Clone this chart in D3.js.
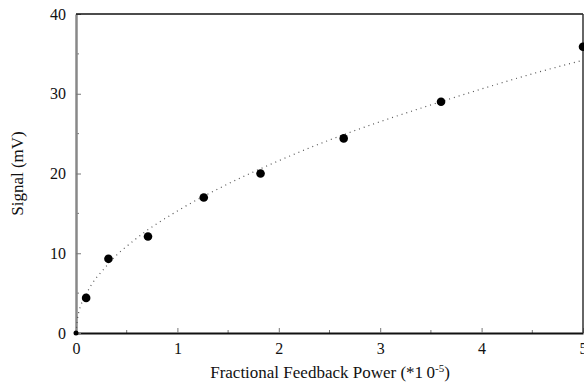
<!DOCTYPE html>
<html>
<head>
<meta charset="utf-8">
<script src="https://cdn.jsdelivr.net/npm/d3@7"></script>
<style>
  html, body { margin: 0; padding: 0; background: #fff; overflow: hidden; }
  text { font-family: "Liberation Serif", "DejaVu Serif", serif; fill: #111; }
</style>
</head>
<body>
<svg id="chart" width="584" height="383"></svg>
<script>
// measured points
const powerX = [0, 0.1, 0.32, 0.71, 1.26, 1.82, 2.64, 3.6, 5.0];
const signalY = [0, 4.4, 9.3, 12.1, 17.0, 20.0, 24.4, 29.0, 35.9];

// dotted fit line
const fitX = [0, 0.02, 0.1, 0.3, 0.6, 1, 1.5, 2, 2.5, 3, 3.5, 4, 4.5, 5];
const fitY = [0, 2.2, 4.8, 8.4, 11.9, 15.3, 18.7, 21.6, 24.2, 26.5, 28.6, 30.6, 32.5, 34.2];

const xTicks = [0, 1, 2, 3, 4, 5];
const yTicks = [0, 10, 20, 30, 40];

const margin = { left: 76, top: 14, right: 1, bottom: 50 };
const W = 584, H = 383;

const svg = d3.select('#chart');
const x = d3.scaleLinear().domain([0, 5]).range([margin.left, W - margin.right]);
const y = d3.scaleLinear().domain([0, 40]).range([H - margin.bottom, margin.top]);

// minor ticks (inward)
const g = svg.append('g');
g.selectAll('line.xminor')
  .data(d3.range(0.5, 5, 1))
  .enter().append('line')
  .attr('x1', d => x(d)).attr('x2', d => x(d))
  .attr('y1', y(0)).attr('y2', y(0) - 3)
  .attr('stroke', '#777').attr('stroke-width', 1);
g.selectAll('line.yminor')
  .data(d3.range(5, 40, 10))
  .enter().append('line')
  .attr('x1', x(0)).attr('x2', x(0) + 3)
  .attr('y1', d => y(d)).attr('y2', d => y(d))
  .attr('stroke', '#777').attr('stroke-width', 1);

// axes with inward major ticks
const xAxis = svg.append('g')
  .attr('transform', `translate(0,${y(0)})`)
  .call(d3.axisBottom(x).tickValues(xTicks).tickSizeInner(-5).tickSizeOuter(0).tickPadding(10).tickFormat(d3.format('d')));
xAxis.select('.domain').attr('stroke', '#111').attr('stroke-width', 2);
xAxis.selectAll('.tick line').attr('stroke', '#777');
xAxis.selectAll('text').style('font-size', '16px').attr('fill', '#111');

const yAxis = svg.append('g')
  .attr('transform', `translate(${x(0)},0)`)
  .call(d3.axisLeft(y).tickValues(yTicks).tickSizeInner(-5).tickSizeOuter(0).tickPadding(10).tickFormat(d3.format('d')));
yAxis.select('.domain').attr('stroke', '#888').attr('stroke-width', 2.5);
yAxis.selectAll('.tick line').attr('stroke', '#777');
yAxis.selectAll('text').style('font-size', '16px').attr('fill', '#111');

// top and right frame
svg.append('line')
  .attr('x1', x(0)).attr('x2', x(5)).attr('y1', y(40)).attr('y2', y(40))
  .attr('stroke', '#111').attr('stroke-width', 1.5);
svg.append('line')
  .attr('x1', x(5)).attr('x2', x(5)).attr('y1', y(40)).attr('y2', y(0))
  .attr('stroke', '#333').attr('stroke-width', 1.5);

// fit line
const fitData = fitX.map((v, i) => [v, fitY[i]]);
svg.append('path')
  .datum(fitData)
  .attr('d', d3.line().x(d => x(d[0])).y(d => y(d[1])).curve(d3.curveMonotoneX))
  .attr('fill', 'none')
  .attr('stroke', '#555')
  .attr('stroke-width', 1.2)
  .attr('stroke-dasharray', '1,4');

// points
svg.selectAll('circle.pt')
  .data(powerX.map((v, i) => [v, signalY[i]]))
  .enter().append('circle')
  .attr('cx', d => x(d[0]))
  .attr('cy', d => y(d[1]))
  .attr('r', d => d[0] === 0 ? 2.5 : 4.3)
  .attr('fill', '#000');

// axis titles
svg.append('text')
  .attr('transform', `translate(23,${(y(0) + y(40)) / 2}) rotate(-90)`)
  .attr('text-anchor', 'middle')
  .style('font-size', '17px')
  .text('Signal (mV)');

const xt = svg.append('text')
  .attr('x', 330).attr('y', 378)
  .attr('text-anchor', 'middle')
  .style('font-size', '17px');
xt.append('tspan').text('Fractional Feedback Power (*1\u20090');
xt.append('tspan').attr('dy', -6).style('font-size', '11px').text('-5');
xt.append('tspan').attr('dy', 6).text(')');
</script>
</body>
</html>
